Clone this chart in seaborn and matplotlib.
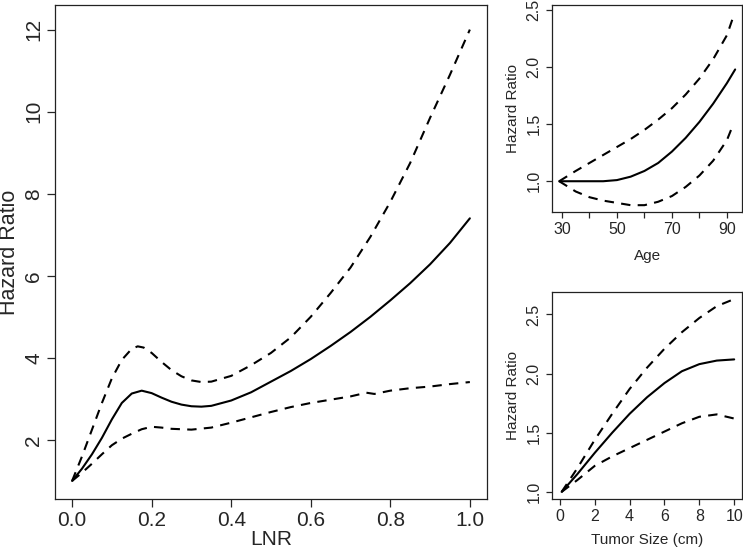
import numpy as np
import pandas as pd
import matplotlib
matplotlib.use("Agg")
import matplotlib.pyplot as plt
import seaborn as sns

# ---- LNR panel data ----
lnr_x = [0.0, 0.025, 0.05, 0.075, 0.1, 0.125, 0.15, 0.175, 0.2, 0.225, 0.25, 0.275, 0.3, 0.325,
         0.35, 0.4, 0.45, 0.5, 0.55, 0.6, 0.65, 0.7, 0.75, 0.8, 0.85, 0.9, 0.95, 1.0]
lnr_hr = [1.0, 1.3, 1.65, 2.05, 2.5, 2.9, 3.13, 3.2, 3.14, 3.03, 2.93, 2.86, 2.82, 2.81,
          2.83, 2.96, 3.16, 3.42, 3.68, 3.97, 4.29, 4.63, 5.0, 5.4, 5.82, 6.28, 6.8, 7.4]
lnr_up_x = [0.0, 0.025, 0.05, 0.075, 0.1, 0.125, 0.15, 0.165, 0.18, 0.2, 0.225, 0.25, 0.275, 0.3,
            0.325, 0.35, 0.4, 0.45, 0.5, 0.55, 0.6, 0.65, 0.7, 0.75, 0.8, 0.85, 0.9, 0.95, 1.0]
lnr_up = [1.0, 1.6, 2.25, 2.9, 3.5, 3.95, 4.22, 4.28, 4.25, 4.12, 3.9, 3.7, 3.55, 3.45,
          3.41, 3.42, 3.56, 3.82, 4.12, 4.5, 5.0, 5.58, 6.2, 6.95, 7.8, 8.75, 9.85, 10.9, 12.0]
lnr_lo_x = [0.0, 0.025, 0.05, 0.075, 0.1, 0.125, 0.15, 0.175, 0.2, 0.225, 0.25, 0.3, 0.35, 0.4,
            0.45, 0.5, 0.55, 0.6, 0.65, 0.7, 0.74, 0.76, 0.8, 0.85, 0.9, 0.95, 1.0]
lnr_lo = [1.0, 1.2, 1.42, 1.65, 1.87, 2.03, 2.15, 2.26, 2.32, 2.3, 2.27, 2.25, 2.3, 2.42,
          2.55, 2.68, 2.8, 2.9, 2.98, 3.06, 3.15, 3.12, 3.2, 3.26, 3.3, 3.36, 3.41]

# ---- Age panel data ----
age_x = [29, 35, 40, 45, 50, 55, 60, 65, 70, 75, 80, 85, 90, 93]
age_hr = [1.0, 1.0, 1.0, 1.0, 1.01, 1.04, 1.09, 1.16, 1.26, 1.38, 1.52, 1.68, 1.86, 1.98]
age_ci_x = [29, 35, 40, 45, 50, 55, 60, 65, 70, 75, 80, 85, 90, 92]
age_up = [1.0, 1.09, 1.16, 1.23, 1.30, 1.37, 1.45, 1.54, 1.64, 1.76, 1.9, 2.07, 2.28, 2.42]
age_lo = [1.0, 0.91, 0.86, 0.83, 0.81, 0.79, 0.79, 0.82, 0.87, 0.95, 1.05, 1.18, 1.36, 1.48]

# ---- Tumor size panel data ----
ts_x = [0.1, 1, 2, 3, 4, 5, 6, 7, 8, 9, 10]
ts_hr = [1.0, 1.15, 1.33, 1.5, 1.66, 1.8, 1.92, 2.02, 2.08, 2.11, 2.12]
ts_up = [1.0, 1.2, 1.44, 1.66, 1.87, 2.05, 2.21, 2.35, 2.47, 2.57, 2.63]
ts_lo = [1.0, 1.1, 1.22, 1.3, 1.37, 1.44, 1.51, 1.58, 1.635, 1.655, 1.62]

sns.set_style("ticks")
plt.rcParams['font.family'] = ['Liberation Sans', 'DejaVu Sans']
plt.rcParams['axes.linewidth'] = 0.9
plt.rcParams['axes.edgecolor'] = '#222222'

fig = plt.figure(figsize=(7.43, 5.51), dpi=100)
ax1 = fig.add_axes([0.074, 0.0944, 0.5814, 0.8966])
ax2 = fig.add_axes([0.743, 0.6152, 0.2557, 0.3757])
ax3 = fig.add_axes([0.743, 0.0944, 0.2557, 0.3757])

DASH = (0, (4.5, 3.5))
LW = 1.5


def draw(ax, x, y, dashed):
    df = pd.DataFrame({"x": x, "y": y})
    sns.lineplot(data=df, x="x", y="y", ax=ax, color="black", lw=LW,
                 linestyle=DASH if dashed else "-", sort=False, estimator=None)


draw(ax1, lnr_x, lnr_hr, False)
draw(ax1, lnr_up_x, lnr_up, True)
draw(ax1, lnr_lo_x, lnr_lo, True)

draw(ax2, age_x, age_hr, False)
draw(ax2, age_ci_x, age_up, True)
draw(ax2, age_ci_x, age_lo, True)

draw(ax3, ts_x, ts_hr, False)
draw(ax3, ts_x, ts_up, True)
draw(ax3, ts_x, ts_lo, True)

# Left panel
ax1.set_xlim(-0.043, 1.043)
ax1.set_ylim(0.56, 12.6)
ax1.set_xticks([0.0, 0.2, 0.4, 0.6, 0.8, 1.0])
ax1.set_xticklabels(["0.0", "0.2", "0.4", "0.6", "0.8", "1.0"])
ax1.set_yticks([2, 4, 6, 8, 10, 12])
ax1.set_xlabel("LNR", fontsize=15, labelpad=0)
ax1.set_ylabel("Hazard Ratio", fontsize=15.5, labelpad=3)
ax1.tick_params(labelsize=15, length=5.5, width=0.9, pad=3)

# Age panel
ax2.set_xlim(26.4, 95.5)
ax2.set_ylim(0.73, 2.545)
ax2.set_xticks([30, 40, 50, 60, 70, 80, 90])
ax2.set_xticklabels(["30", "", "50", "", "70", "", "90"])
ax2.set_yticks([1.0, 1.5, 2.0, 2.5])
ax2.set_yticklabels(["1.0", "1.5", "2.0", "2.5"])
ax2.set_xlabel("Age", fontsize=11, labelpad=8)
ax2.set_ylabel("Hazard Ratio", fontsize=11, labelpad=5)
ax2.tick_params(labelsize=11.5, length=4.5, width=0.9, pad=3)

# Tumor size panel
ax3.set_xlim(-0.45, 10.45)
ax3.set_ylim(0.94, 2.69)
ax3.set_xticks([0, 2, 4, 6, 8, 10])
ax3.set_yticks([1.0, 1.5, 2.0, 2.5])
ax3.set_yticklabels(["1.0", "1.5", "2.0", "2.5"])
ax3.set_xlabel("Tumor Size (cm)", fontsize=11, labelpad=6)
ax3.set_ylabel("Hazard Ratio", fontsize=11, labelpad=5)
ax3.tick_params(labelsize=11.5, length=4.5, width=0.9, pad=3)

for ax in (ax1, ax2, ax3):
    for s in ax.spines.values():
        s.set_visible(True)
    plt.setp(ax.get_yticklabels(), rotation=90, va="center")

fig.savefig("out.png", dpi=100)
